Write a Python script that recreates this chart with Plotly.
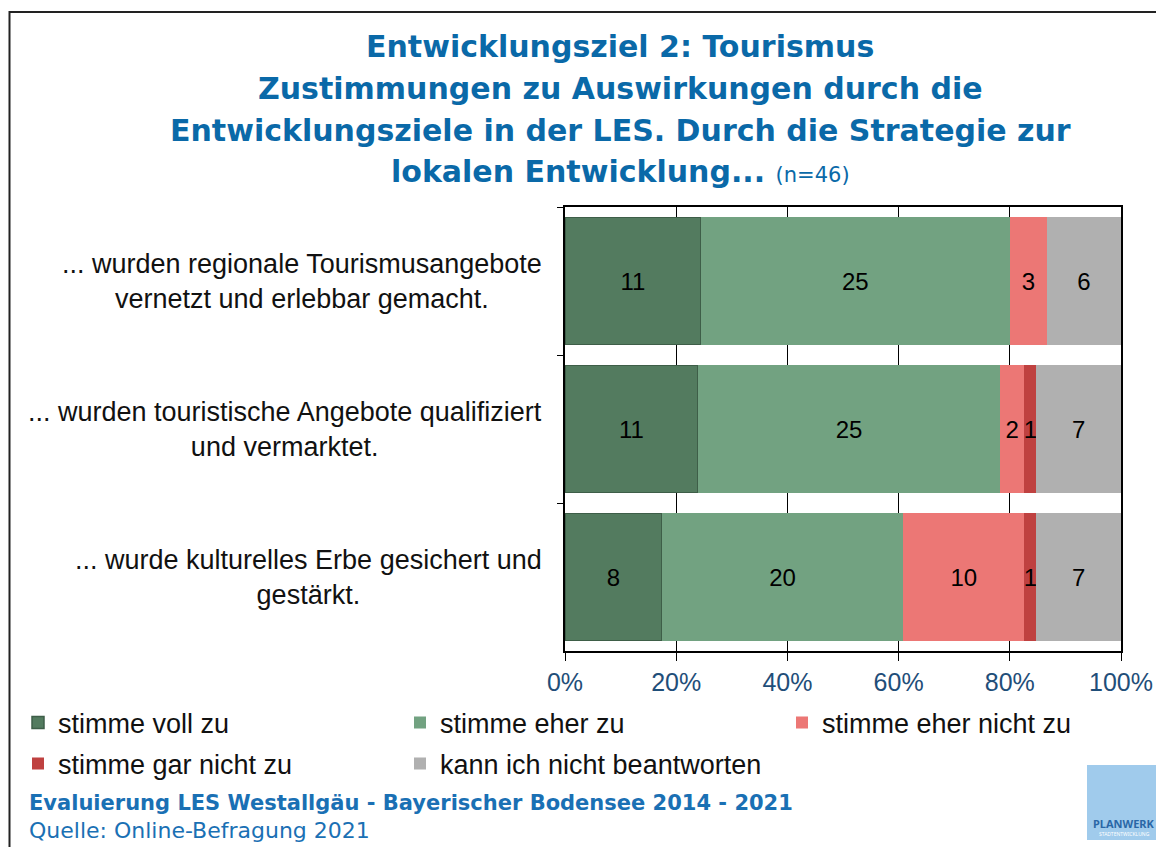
import plotly.graph_objects as go

OFF = 8  # page body margin
W, H = 1164 - OFF, 847 - OFF

categories = [
    "... wurden regionale Tourismusangebote<br>vernetzt und erlebbar gemacht.",
    "... wurden touristische Angebote qualifiziert<br>und vermarktet.",
    "... wurde kulturelles Erbe gesichert und<br>gestärkt.",
]
series_names = ["stimme voll zu", "stimme eher zu", "stimme eher nicht zu",
                "stimme gar nicht zu", "kann ich nicht beantworten"]
voll_zu = [11, 11, 8]
eher_zu = [25, 25, 20]
eher_nicht_zu = [3, 2, 10]
gar_nicht_zu = [0, 1, 1]
nicht_beantworten = [6, 7, 7]
tick_values = [0, 20, 40, 60, 80, 100]
tick_labels = ["0%", "20%", "40%", "60%", "80%", "100%"]

series_values = [voll_zu, eher_zu, eher_nicht_zu, gar_nicht_zu, nicht_beantworten]
colors = ["#537B5F", "#72A281", "#EC7775", "#BF4140", "#B0B0B0"]
line_colors = ["#3E5E48", "#72A281", "#EC7775", "#BF4140", "#B0B0B0"]
line_widths = [1.5, 0, 0, 0, 0]
legend_ids = ["legend", "legend", "legend", "legend2", "legend2"]

LABEL_FONT = "Liberation Sans, Arial, sans-serif"
TITLE_FONT = "DejaVu Sans, Verdana, sans-serif"
BLUE = "#0A69A8"


def px(x):
    return (x - OFF) / W


def py(y):
    return 1 - (y - OFF) / H


fig = go.Figure()
for name, vals, col, lc, lw, lg in zip(series_names, series_values, colors,
                                       line_colors, line_widths, legend_ids):
    fig.add_trace(go.Bar(
        y=categories, x=vals, name=name, orientation="h",
        marker=dict(color=col, line=dict(color=lc, width=lw)),
        text=[str(v) if v else "" for v in vals],
        textposition="inside", insidetextanchor="middle",
        constraintext="none", textangle=0,
        textfont=dict(family=LABEL_FONT, size=24, color="black"),
        legend=lg, hoverinfo="x+name",
    ))

annotations = []
# category labels
for cat in categories:
    annotations.append(dict(
        x=px(544), xref="paper", y=cat, yref="y", text=cat,
        xanchor="right", yanchor="middle", align="center", showarrow=False,
        font=dict(family=LABEL_FONT, size=27, color="#111111"),
    ))

# title lines
title_lines = [
    "Entwicklungsziel 2: Tourismus",
    "Zustimmungen zu Auswirkungen durch die",
    "Entwicklungsziele in der LES. Durch die Strategie zur",
    "lokalen Entwicklung... <span style='font-size:21px;font-weight:normal'>(n=46)</span>",
]
title_y = [47, 88, 130, 172]
for t, yy in zip(title_lines, title_y):
    annotations.append(dict(
        x=px(620), xref="paper", y=py(yy), yref="paper", text=t,
        xanchor="center", yanchor="middle", showarrow=False,
        font=dict(family=TITLE_FONT, size=30, color=BLUE, weight="bold"),
    ))

# footer
annotations.append(dict(
    x=px(27), xref="paper", y=py(803), yref="paper",
    text="Evaluierung LES Westallgäu - Bayerischer Bodensee 2014 - 2021",
    xanchor="left", yanchor="middle", showarrow=False,
    font=dict(family=TITLE_FONT, size=21, color="#1A70B4", weight="bold"),
))
annotations.append(dict(
    x=px(27), xref="paper", y=py(830), yref="paper",
    text="Quelle: Online-Befragung 2021",
    xanchor="left", yanchor="middle", showarrow=False,
    font=dict(family=TITLE_FONT, size=22, color="#1A70B4"),
))

# logo
annotations.append(dict(
    x=px(1124), xref="paper", y=py(823), yref="paper", text="<b>PLANWERK</b>",
    xanchor="center", yanchor="middle", showarrow=False,
    font=dict(family="Noto Sans, sans-serif", size=11, color="#2A67A6"),
))
annotations.append(dict(
    x=px(1124), xref="paper", y=py(834), yref="paper", text="STADTENTWICKLUNG",
    xanchor="center", yanchor="middle", showarrow=False,
    font=dict(family="Noto Sans, sans-serif", size=5, color="white"),
))

shapes = [
    dict(type="rect", xref="paper", yref="paper",
         x0=px(9.5), x1=px(1190), y0=py(12), y1=py(880),
         line=dict(color="#222222", width=2), fillcolor="rgba(0,0,0,0)", layer="below"),
    dict(type="rect", xref="paper", yref="paper",
         x0=px(1087), x1=px(1161), y0=py(765), y1=py(840),
         line=dict(width=0), fillcolor="#A0CBEC", layer="below"),
]

fig.update_layout(
    width=W, height=H,
    margin=dict(l=0, r=0, t=0, b=0, pad=0, autoexpand=False),
    paper_bgcolor="white", plot_bgcolor="white",
    barmode="stack", barnorm="percent", bargap=0.14,
    showlegend=True,
    legend=dict(orientation="h", x=px(18), y=py(723), xanchor="left", yanchor="middle",
                entrywidth=337, entrywidthmode="pixels", traceorder="normal",
                font=dict(family=LABEL_FONT, size=27, color="#111111"),
                bgcolor="rgba(0,0,0,0)"),
    legend2=dict(orientation="h", x=px(18), y=py(764), xanchor="left", yanchor="middle",
                 entrywidth=337, entrywidthmode="pixels", traceorder="normal",
                 font=dict(family=LABEL_FONT, size=27, color="#111111"),
                 bgcolor="rgba(0,0,0,0)"),
    xaxis=dict(domain=[px(565), px(1121)], range=[0, 100],
               tickmode="array", tickvals=tick_values, ticktext=tick_labels,
               ticks="outside", ticklen=8, tickcolor="black", tickwidth=1,
               showgrid=True, gridcolor="black", gridwidth=1, zeroline=False,
               showline=True, mirror=True, linecolor="black", linewidth=2,
               tickfont=dict(family=LABEL_FONT, size=25, color="#1F4E79"),
               fixedrange=True),
    yaxis=dict(domain=[py(651), py(207)], autorange="reversed",
               type="category", tickson="boundaries",
               ticks="outside", ticklen=6, tickcolor="black",
               showticklabels=False, showgrid=False, zeroline=False,
               showline=True, mirror=True, linecolor="black", linewidth=2,
               fixedrange=True),
    annotations=annotations,
    shapes=shapes,
)

fig.write_html("out.html")
